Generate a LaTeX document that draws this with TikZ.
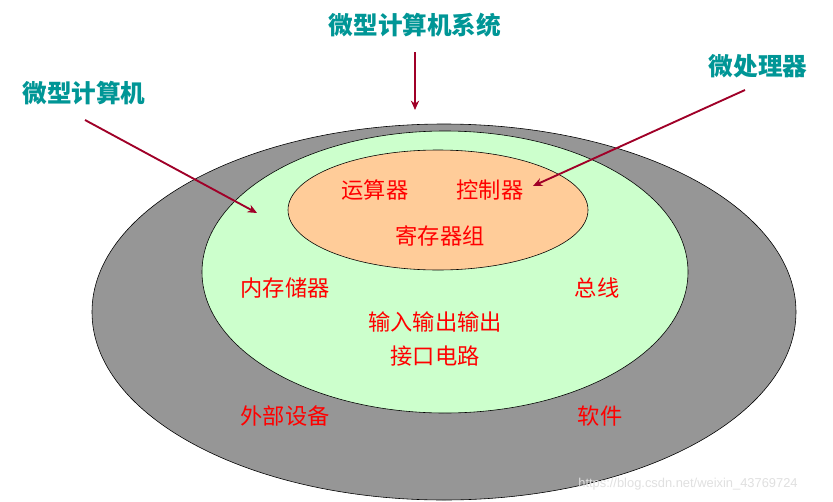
\documentclass[tikz,border=0pt]{standalone}
\usepackage{fontspec}
\newfontfamily\cjk{Noto Sans CJK SC}
\setsansfont{Liberation Sans}
\usetikzlibrary{arrows.meta}
\definecolor{teal1}{RGB}{0,150,150}
\definecolor{arrowred}{RGB}{160,0,40}
\definecolor{outergray}{RGB}{150,150,150}
\definecolor{midgreen}{RGB}{204,255,204}
\definecolor{innerorange}{RGB}{255,204,153}
\tikzset{
  title/.style={font=\cjk\bfseries\fontsize{21}{24}\selectfont, text=teal1},
  part/.style={font=\cjk\fontsize{19}{22}\selectfont, text=red},
  pointer/.style={arrowred, line width=1.6pt, -{Stealth[length=8pt,width=7pt]}},
  ring/.style={draw=black, line width=0.5pt}
}
\begin{document}
\begin{tikzpicture}[x=0.03cm,y=-0.03cm]
\useasboundingbox (0,0) rectangle (833,502);
\fill[white] (0,0) rectangle (833,502);
\draw[ring, fill=outergray] (444,312) ellipse [x radius=352, y radius=188];
\draw[ring, fill=midgreen] (445,272) ellipse [x radius=243, y radius=141];
\draw[ring, fill=innerorange] (438,210) ellipse [x radius=150, y radius=60];
\node[title] (sys) at (415,25) {微型计算机系统};
\node[title] (cpu) at (758,66) {微处理器};
\node[title] (mc) at (84,93) {微型计算机};
\coordinate (sysend) at (415,110);
\coordinate (cpustart) at (745,90);
\coordinate (cpuend) at (533,186);
\coordinate (mcstart) at (85,120);
\coordinate (mcend) at (257,213);
\draw[pointer] (415,52) -- (sysend);
\draw[pointer] (cpustart) -- (cpuend);
\draw[pointer] (mcstart) -- (mcend);
\node[part] (alu) at (375,190) {运算器};
\node[part] (ctl) at (490,190) {控制器};
\node[part] (reg) at (440,236) {寄存器组};
\node[part] (mem) at (285,288) {内存储器};
\node[part] (bus) at (597,288) {总线};
\node[part] (io1) at (435,322) {输入输出输出};
\node[part] (io2) at (435,356) {接口电路};
\node[part] (ext) at (285,416) {外部设备};
\node[part] (sw) at (600,416) {软件};
\node[font=\sffamily\fontsize{11}{13}\selectfont, text=black!12] (wm) at (688,484) {https://blog.csdn.net/weixin\_43769724};
\end{tikzpicture}
\end{document}
